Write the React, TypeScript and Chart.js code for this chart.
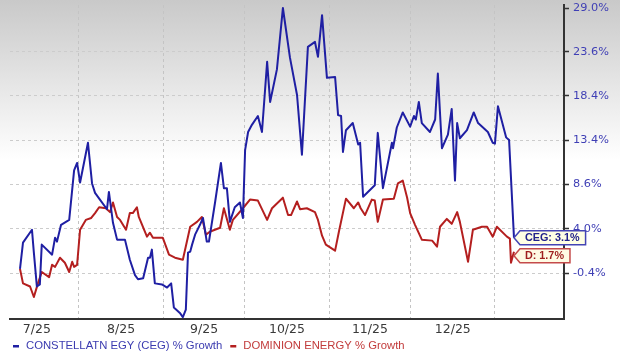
import React, { useEffect, useRef } from 'react';
import { Chart, registerables } from 'chart.js';

Chart.register(...registerables);

// x values: days since 2025-07-01
const cegDays = [9.3, 10.4, 13.7, 14.4, 15.5, 16.6, 17.3, 21.1, 22.2, 22.9, 24.4, 27.4, 29.2, 30.3, 31.4, 34.3, 35.8, 36.9, 38.7, 41.3, 42.0, 43.5, 45.0, 47.9, 49.7, 51.6, 52.7, 54.6, 56.4, 57.1, 57.8, 58.9, 61.5, 63.4, 64.9, 65.9, 68.1, 69.2, 70.3, 71.1, 71.9, 72.6, 73.7, 75.5, 76.6, 78.0, 78.8, 81.1, 83.2, 84.3, 85.4, 86.5, 88.3, 90.2, 91.3, 92.1, 93.2, 94.6, 96.8, 98.3, 100.2, 101.3, 103.8, 106.0, 108.6, 111.2, 113.0, 115.2, 117.8, 118.9, 120.4, 122.2, 125.2, 126.3, 127.4, 128.1, 129.2, 131.7, 133.7, 134.4, 135.5, 139.8, 140.9, 142.8, 146.1, 146.5, 147.9, 150.1, 152.8, 154.2, 154.9, 156.0, 157.1, 160.1, 162.0, 163.0, 164.5, 166.7, 168.1, 169.3, 170.1, 171.1, 173.7, 176.2, 177.8, 181.4, 183.2, 184.0, 185.1, 188.1, 189.2, 191.0];
const cegGrowth = [0.0, 2.6, 3.9, 1.6, -1.7, -1.5, 2.4, 1.4, 3.1, 2.7, 4.4, 4.9, 10.1, 10.9, 8.8, 13.1, 8.7, 7.7, 7.0, 6.0, 7.8, 4.6, 2.9, 2.9, 0.9, -0.6, -1.0, -0.9, 1.1, 1.1, 1.9, -1.4, -1.5, -1.8, -1.4, -3.7, -4.2, -4.6, -3.9, 1.6, 1.7, 2.4, 3.4, 4.4, 5.1, 2.7, 2.7, 6.8, 10.9, 8.2, 8.2, 4.7, 6.2, 6.7, 5.1, 12.3, 14.3, 15.1, 16.1, 14.3, 22.4, 17.7, 21.5, 29.0, 22.9, 18.5, 11.8, 24.2, 24.8, 23.0, 28.1, 20.5, 20.6, 16.2, 16.1, 12.1, 14.5, 15.3, 12.9, 13.1, 7.3, 8.5, 14.2, 8.2, 13.1, 12.5, 14.8, 16.5, 14.9, 16.1, 15.7, 17.7, 15.3, 14.3, 15.7, 21.0, 12.5, 14.0, 16.9, 9.0, 15.3, 13.6, 14.5, 16.5, 15.3, 14.3, 13.1, 13.0, 17.2, 13.7, 13.4, 3.1];

const dDays = [9.3, 10.4, 13.0, 14.4, 15.9, 17.3, 20.0, 21.1, 22.2, 24.0, 25.8, 27.4, 28.5, 29.2, 30.3, 31.4, 33.5, 35.5, 36.9, 38.4, 40.9, 42.4, 43.5, 45.0, 46.1, 48.3, 49.7, 50.8, 52.3, 53.0, 56.0, 57.1, 58.2, 61.8, 64.1, 66.3, 69.2, 71.9, 74.4, 76.2, 77.7, 79.1, 82.9, 84.3, 86.5, 87.6, 91.3, 93.9, 96.8, 100.2, 102.0, 106.0, 107.9, 109.0, 111.2, 112.3, 114.8, 117.8, 118.9, 120.4, 121.8, 125.2, 126.6, 129.2, 132.1, 133.7, 134.6, 136.2, 138.7, 139.8, 140.9, 142.8, 146.8, 148.3, 150.1, 151.7, 152.8, 154.6, 157.1, 160.9, 162.7, 163.8, 166.3, 168.1, 170.1, 171.1, 174.1, 175.9, 179.2, 181.1, 183.2, 184.7, 188.4, 189.5, 189.9, 191.0];
const dGrowth = [0.0, -1.4, -1.7, -2.7, -1.4, -0.3, -0.8, 0.4, 0.2, 1.1, 0.6, -0.3, 0.7, 0.2, 0.4, 3.9, 4.9, 5.1, 5.6, 6.2, 6.1, 5.7, 6.7, 5.2, 4.9, 3.9, 5.6, 5.6, 6.2, 5.2, 3.2, 3.6, 3.1, 3.1, 1.4, 1.1, 0.9, 4.2, 4.7, 5.2, 3.4, 3.7, 4.1, 6.1, 3.9, 4.9, 6.1, 7.0, 6.9, 4.9, 6.1, 7.2, 5.4, 5.4, 6.8, 6.0, 6.1, 5.7, 4.9, 3.3, 2.4, 1.8, 3.7, 7.1, 6.1, 6.7, 6.1, 5.4, 7.0, 6.9, 4.7, 7.0, 7.1, 8.7, 9.0, 7.2, 5.6, 4.4, 2.9, 2.8, 2.2, 4.2, 5.0, 4.5, 5.7, 4.7, 0.7, 3.9, 4.2, 4.2, 3.2, 4.2, 3.2, 3.0, 0.6, 1.7];

const monthStartDays = [31, 62, 92, 123, 153, 184];
const monthMidDays = [15.5, 46.5, 77, 107.5, 138, 168.5];
const monthLabels = ['7/25', '8/25', '9/25', '10/25', '11/25', '12/25'];

const yTickValues = [-0.4, 4.0, 8.6, 13.4, 18.4, 23.6, 29.0];
const yTickLabels = ['-0.4%', '4.0%', '8.6%', '13.4%', '18.4%', '23.6%', '29.0%'];
const yAxisMinPct = -4.77;
const yAxisMaxPct = 29.38;
const xAxisMinDay = 5.62;
const xAxisMaxDay = 209.4;

const seriesNames = ['CONSTELLATN EGY (CEG) % Growth', 'DOMINION ENERGY % Growth'];
const endTags = ['CEG', 'D'];

const toLog = (p: number) => Math.log(1 + p / 100);

const LINE_COLORS = ['#1f1fa3', '#b41f1f'];
const LEGEND_COLORS = ['#3b3bb0', '#c23b3b'];
const TAG_STYLES = [
  { border: '#4444b4', fill: '#ffffe4', text: '#22228c' },
  { border: '#c44a4a', fill: '#fffbe4', text: '#9e1e1e' },
];

const bgPlugin = {
  id: 'bgGradient',
  beforeDraw(chart: any) {
    const { ctx, width, height } = chart;
    const g = ctx.createLinearGradient(0, 0, 0, 160);
    g.addColorStop(0, '#c9c9c9');
    g.addColorStop(1, '#ffffff');
    ctx.save();
    ctx.fillStyle = g;
    ctx.fillRect(0, 0, width, height);
    ctx.restore();
  },
};

const legendPlugin = {
  id: 'customLegend',
  afterDraw(chart: any) {
    const { ctx } = chart;
    ctx.save();
    ctx.font = '11.3px "Liberation Sans", Arial, sans-serif';
    ctx.textBaseline = 'middle';
    const y = 346;
    let x = 13;
    seriesNames.forEach((name, i) => {
      ctx.fillStyle = LINE_COLORS[i];
      ctx.fillRect(x, y - 1, 6, 2.5);
      ctx.fillStyle = LEGEND_COLORS[i];
      ctx.fillText(name, x + 13, y);
      x += 13 + ctx.measureText(name).width + 8;
    });
    ctx.restore();
  },
};

const endTagPlugin = {
  id: 'endTags',
  afterDraw(chart: any) {
    const { ctx } = chart;
    const yScale = chart.scales.y;
    const tags = chart.data.datasets.map((ds: any, i: number) => {
      const meta = chart.getDatasetMeta(i);
      const pt = meta.data[meta.data.length - 1];
      const growth = i === 0 ? cegGrowth[cegGrowth.length - 1] : dGrowth[dGrowth.length - 1];
      return { i, x: pt.x, y: yScale.getPixelForValue(toLog(growth)), text: `${endTags[i]}: ${growth.toFixed(1)}%` };
    });
    tags.sort((a: any, b: any) => a.y - b.y);
    const h = 14;
    for (let k = 1; k < tags.length; k++) {
      if (tags[k].y - tags[k - 1].y < h + 4) tags[k].y = tags[k - 1].y + h + 4;
    }
    ctx.save();
    ctx.font = 'bold 10.8px "Liberation Sans", Arial, sans-serif';
    ctx.textBaseline = 'middle';
    tags.forEach((t: any) => {
      const st = TAG_STYLES[t.i];
      const tw = ctx.measureText(t.text).width;
      const arrow = 6;
      const left = t.x + arrow;
      const right = left + tw + 11;
      ctx.beginPath();
      ctx.moveTo(t.x, t.y);
      ctx.lineTo(left, t.y - h / 2);
      ctx.lineTo(right, t.y - h / 2);
      ctx.lineTo(right, t.y + h / 2);
      ctx.lineTo(left, t.y + h / 2);
      ctx.closePath();
      ctx.fillStyle = st.fill;
      ctx.fill();
      ctx.lineWidth = 1.5;
      ctx.strokeStyle = st.border;
      ctx.stroke();
      ctx.fillStyle = st.text;
      ctx.fillText(t.text, left + 5, t.y + 0.5);
    });
    ctx.restore();
  },
};

export default function App() {
  const ref = useRef<HTMLCanvasElement>(null);
  useEffect(() => {
    document.body.style.margin = '0';
    const chart = new Chart(ref.current as HTMLCanvasElement, {
      type: 'line',
      data: {
        datasets: [
          {
            label: seriesNames[0],
            data: cegDays.map((d, i) => ({ x: d, y: toLog(cegGrowth[i]) })),
            borderColor: LINE_COLORS[0],
            borderWidth: 2,
          },
          {
            label: seriesNames[1],
            data: dDays.map((d, i) => ({ x: d, y: toLog(dGrowth[i]) })),
            borderColor: LINE_COLORS[1],
            borderWidth: 2,
          },
        ],
      },
      options: {
        responsive: false,
        animation: false,
        devicePixelRatio: 1,
        layout: { padding: { left: 10, top: 5, right: 0, bottom: 0 } },
        plugins: { legend: { display: false }, tooltip: { enabled: false } },
        elements: {
          point: { radius: 0 },
          line: { tension: 0, borderJoinStyle: 'round' },
        },
        scales: {
          x: {
            type: 'linear',
            min: xAxisMinDay,
            max: xAxisMaxDay,
            afterBuildTicks: (s: any) => {
              s.ticks = [...monthStartDays, ...monthMidDays]
                .sort((a, b) => a - b)
                .map((v) => ({ value: v }));
            },
            afterFit: (s: any) => {
              s.height = 36;
              s.paddingLeft = 0;
              s.paddingRight = 0;
            },
            ticks: {
              autoSkip: false,
              maxRotation: 0,
              minRotation: 0,
              padding: 3,
              color: '#3a3a3a',
              font: { family: '"DejaVu Sans", Verdana, sans-serif', size: 12.5 },
              callback: (v: any) => {
                const i = monthMidDays.indexOf(Number(v));
                return i >= 0 ? monthLabels[i] : '';
              },
            },
            grid: {
              drawTicks: false,
              lineWidth: 1,
              color: (c: any) =>
                c.tick && monthStartDays.includes(c.tick.value) ? '#c4c4c4' : 'rgba(0,0,0,0)',
            },
            border: { display: true, color: '#333333', width: 2, dash: [3, 3] },
          },
          y: {
            type: 'linear',
            position: 'right',
            min: toLog(yAxisMinPct),
            max: toLog(yAxisMaxPct),
            afterBuildTicks: (s: any) => {
              s.ticks = yTickValues.map((p) => ({ value: toLog(p) }));
            },
            afterFit: (s: any) => {
              s.width = 56;
              s.paddingTop = 0;
              s.paddingBottom = 0;
            },
            ticks: {
              padding: 4,
              color: '#3f3fb5',
              font: { family: '"DejaVu Sans", Verdana, sans-serif', size: 11.3 },
              callback: (_v: any, i: number) => yTickLabels[i],
            },
            grid: {
              color: '#cccccc',
              lineWidth: 1,
              drawTicks: true,
              tickLength: 5,
              tickColor: '#333333',
              tickWidth: 1.5,
            },
            border: { display: true, color: '#333333', width: 2, dash: [3, 3] },
          },
        },
      } as any,
      plugins: [bgPlugin, legendPlugin, endTagPlugin],
    });
    return () => chart.destroy();
  }, []);
  return (
    <div style={{ width: 620, height: 355 }}>
      <canvas ref={ref} width={620} height={355} style={{ display: 'block' }} />
    </div>
  );
}
